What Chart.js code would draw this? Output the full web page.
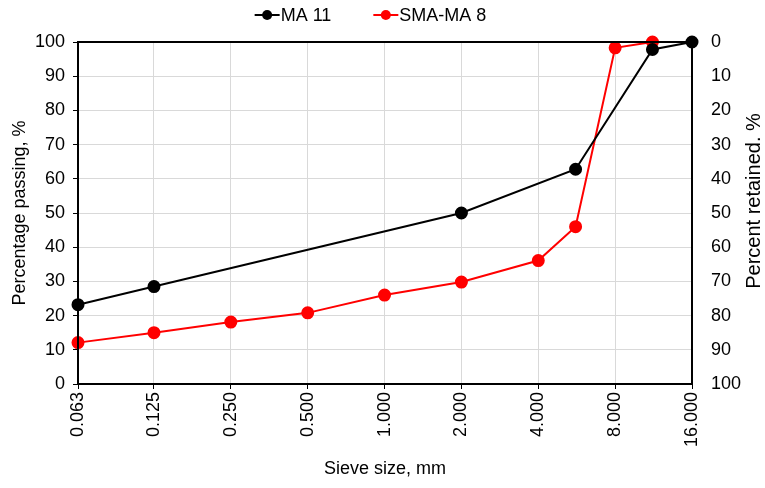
<!DOCTYPE html>
<html>
<head>
<meta charset="utf-8">
<script src="https://cdn.jsdelivr.net/npm/chart.js@4"></script>
<style>
  body { margin: 0; background: #fff; }
  #wrap { width: 765px; height: 488px; }
</style>
</head>
<body>
<div id="wrap"><canvas id="gradingChart"></canvas></div>
<script>
// sieve sizes (mm) and percentage passing for each mix
var sieveTicks = [0.063, 0.125, 0.25, 0.5, 1, 2, 4, 8, 16];
var ma11Sizes = [0.063, 0.125, 2, 5.6, 11.2, 16];
var ma11Passing = [23.2, 28.5, 50, 62.8, 97.8, 100];
var smaSizes = [0.063, 0.125, 0.25, 0.5, 1, 2, 4, 5.6, 8, 11.2];
var smaPassing = [12.1, 15.0, 18.1, 20.8, 26.0, 29.8, 36.1, 46.0, 98.3, 100];
var seriesNames = ["MA 11", "SMA-MA 8"];
var seriesColors = ["#000000", "#ff0000"];

var fontFamily = "'Liberation Sans', Arial, sans-serif";

function toPoints(xs, ys) {
    var pts = [];
    for (var i = 0; i < xs.length; i++) {
        pts.push({ x: xs[i], y: ys[i] });
    }
    return pts;
}

// legend drawn by hand: line + dot marker sitting right against the text
var legendPlugin = {
    id: "lineLegend",
    afterDraw: function (chart) {
        var ctx = chart.ctx;
        ctx.save();
        ctx.font = "18px " + fontFamily;
        ctx.textBaseline = "middle";
        var markerW = 25, gap = 1, itemGap = 42, y = 15;
        var total = 0;
        var widths = [];
        for (var i = 0; i < seriesNames.length; i++) {
            widths.push(ctx.measureText(seriesNames[i]).width);
            total += markerW + gap + widths[i];
        }
        total += itemGap * (seriesNames.length - 1);
        var x = (chart.width - total) / 2 - 12;
        for (var i = 0; i < seriesNames.length; i++) {
            ctx.strokeStyle = seriesColors[i];
            ctx.fillStyle = seriesColors[i];
            ctx.lineWidth = 2;
            ctx.beginPath();
            ctx.moveTo(x, y);
            ctx.lineTo(x + markerW, y);
            ctx.stroke();
            ctx.beginPath();
            ctx.arc(x + markerW / 2, y, 5, 0, Math.PI * 2);
            ctx.fill();
            ctx.fillStyle = "#000";
            ctx.fillText(seriesNames[i], x + markerW + gap, y + 1);
            x += markerW + gap + widths[i] + itemGap;
        }
        ctx.restore();
    }
};

// frame round the plot area and the rotated right-hand title
var framePlugin = {
    id: "frame",
    afterDraw: function (chart) {
        var a = chart.chartArea;
        var ctx = chart.ctx;
        ctx.save();
        ctx.strokeStyle = "#000";
        ctx.lineWidth = 2;
        ctx.strokeRect(a.left, a.top, a.right - a.left, a.bottom - a.top);
        ctx.translate(754, 201);
        ctx.rotate(-Math.PI / 2);
        ctx.fillStyle = "#000";
        ctx.font = "20px " + fontFamily;
        ctx.textAlign = "center";
        ctx.textBaseline = "middle";
        ctx.fillText("Percent retained. %", 0, 0);
        ctx.restore();
    }
};

Chart.defaults.font.family = fontFamily;
Chart.defaults.color = "#000";

new Chart("gradingChart", {
    type: "line",
    data: {
        datasets: [{
            label: seriesNames[0],
            data: toPoints(ma11Sizes, ma11Passing),
            borderColor: seriesColors[0],
            backgroundColor: seriesColors[0],
            borderWidth: 2,
            pointRadius: 5.5,
            pointHoverRadius: 5.5,
            clip: false,
            tension: 0
        }, {
            label: seriesNames[1],
            data: toPoints(smaSizes, smaPassing),
            borderColor: seriesColors[1],
            backgroundColor: seriesColors[1],
            borderWidth: 2,
            pointRadius: 5.5,
            pointHoverRadius: 5.5,
            clip: false,
            tension: 0
        }]
    },
    options: {
        responsive: true,
        maintainAspectRatio: false,
        animation: false,
        layout: { padding: { top: 42, right: 0, bottom: 4, left: 0 } },
        plugins: {
            tooltip: { enabled: false },
            legend: { display: false }
        },
        scales: {
            x: {
                type: "logarithmic",
                min: 0.063,
                max: 16,
                afterBuildTicks: function (scale) {
                    scale.ticks = sieveTicks.map(function (v) { return { value: v }; });
                },
                afterFit: function (scale) { scale.height = 100; },
                ticks: {
                    autoSkip: false,
                    minRotation: 90,
                    maxRotation: 90,
                    font: { size: 18 },
                    padding: 3,
                    callback: function (v) { return Number(v).toFixed(3); }
                },
                grid: { color: "#d9d9d9", tickColor: "#000", tickLength: 5, lineWidth: 1 },
                border: { display: false },
                title: { display: true, text: "Sieve size, mm", font: { size: 18 }, padding: { top: 12 } }
            },
            y: {
                position: "left",
                min: 0,
                max: 100,
                afterFit: function (scale) { scale.width = 78; },
                ticks: { stepSize: 10, font: { size: 18 }, padding: 8 },
                grid: { color: "#d9d9d9", tickColor: "#000", tickLength: 5 },
                border: { display: false },
                title: { display: true, text: "Percentage passing, %", font: { size: 18 }, padding: { top: 9, bottom: 0 } }
            },
            y2: {
                position: "right",
                reverse: true,
                min: 0,
                max: 100,
                afterFit: function (scale) { scale.width = 73; },
                ticks: { stepSize: 10, font: { size: 18 }, padding: 19 },
                grid: { display: false, drawTicks: false },
                border: { display: false }
            }
        }
    },
    plugins: [framePlugin, legendPlugin]
});
</script>
</body>
</html>
